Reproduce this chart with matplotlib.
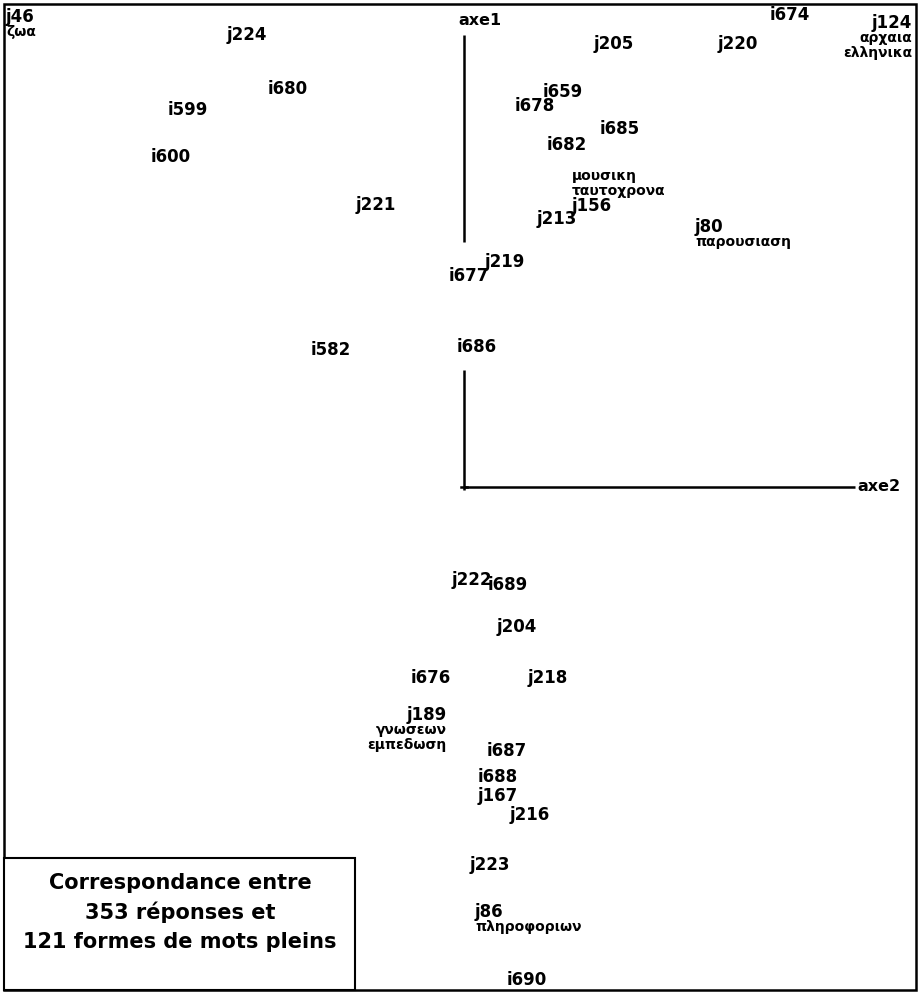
import matplotlib
matplotlib.use("Agg")
import matplotlib.pyplot as plt
from matplotlib.patches import Rectangle

# --- factor coordinates (axe2 horizontal, axe1 vertical) ---
labels = ["j46", "j224", "i680", "i599", "i600", "j221", "i674", "j124",
          "j205", "j220", "i659", "i678", "i685", "i682", "j156", "j213",
          "j80", "j219", "i677", "i582", "i686", "j222", "i689", "j204",
          "i676", "j218", "j189", "i687", "i688", "j167", "j216", "j223",
          "j86", "i690"]
axe2 = [-4.58, -2.37, -1.96, -2.96, -3.13, -1.08, 3.06, 4.48,
        1.30, 2.54, 0.79, 0.51, 1.36, 0.83, 1.08, 0.73,
        2.31, 0.21, -0.15, -1.53, -0.07, -0.12, 0.24, 0.33,
        -0.53, 0.64, -0.17, 0.23, 0.14, 0.14, 0.46, 0.06,
        0.11, 0.43]
axe1 = [4.70, 4.52, 3.98, 3.77, 3.30, 2.82, 4.72, 4.64,
        4.43, 4.43, 3.95, 3.81, 3.58, 3.42, 2.81, 2.68,
        2.60, 2.25, 2.11, 1.37, 1.40, -0.93, -0.98, -1.40,
        -1.91, -1.91, -2.28, -2.64, -2.90, -3.09, -3.28, -3.78,
        -4.25, -4.93]

# words printed with some of the labels
words = {
    "j46": ["ζωα"],
    "j124": ["αρχαια", "ελληνικα"],
    "j156": ["μουσικη", "ταυτοχρονα"],
    "j80": ["παρουσιαση"],
    "j189": ["γνωσεων", "εμπεδωση"],
    "j86": ["πληροφοριων"],
}
right_aligned = {"j124", "j189"}
words_above = {"j156"}

title_lines = ["Correspondance entre", "353 réponses et", "121 formes de mots pleins"]

# --- figure: 1 data unit = 100 px, origin of the axes at (464, 487) px ---
W, H = 919, 992
ox, oy = 464, 487
fig = plt.figure(figsize=(W / 100, H / 100), dpi=100)
ax = fig.add_axes([0, 0, 1, 1])
ax.set_xlim(-ox / 100, (W - ox) / 100)
ax.set_ylim(-(H - oy) / 100, oy / 100)
ax.axis("off")

font = dict(family="DejaVu Sans", weight="bold", color="black")

# axes of the correspondence map
ax.plot([0, 0], [-0.03, 1.17], color="black", lw=1.8, solid_capstyle="butt")
ax.plot([0, 0], [2.45, 4.52], color="black", lw=1.8, solid_capstyle="butt")
ax.plot([0, 3.91], [0, 0], color="black", lw=1.8, solid_capstyle="butt")
ax.plot([-0.03, 0.03], [0, 0], color="black", lw=1.8)
ax.text(-0.06, 4.66, "axe1", fontsize=11.5, va="center", ha="left", **font)
ax.text(3.93, 0, "axe2", fontsize=11.5, va="center", ha="left", **font)

step = 10.8  # line step in points (15 px)
for lab, x, y in zip(labels, axe2, axe1):
    ha = "right" if lab in right_aligned else "left"
    ax.text(x, y, lab, fontsize=12, va="center", ha=ha, **font)
    ws = words.get(lab, [])
    for k, w in enumerate(ws):
        if lab in words_above:
            dy = step * (len(ws) - k)
        else:
            dy = -step * (k + 1)
        ax.annotate(w, (x, y), xytext=(0, dy), textcoords="offset points",
                    fontsize=10, va="center", ha=ha, **font)

# outer frame
fig.add_artist(Rectangle((4 / W, 2 / H), 912 / W, 986 / H, transform=fig.transFigure,
                         fill=False, edgecolor="black", lw=1.8))
# title box
fig.add_artist(Rectangle((4 / W, 2 / H), 351 / W, 132 / H, transform=fig.transFigure,
                         facecolor="white", edgecolor="black", lw=1.5))
for line, py in zip(title_lines, [883, 912, 942]):
    fig.text(180 / W, 1 - py / H, line, fontsize=15, ha="center", va="center", **font)

fig.savefig("out.png", dpi=100)
